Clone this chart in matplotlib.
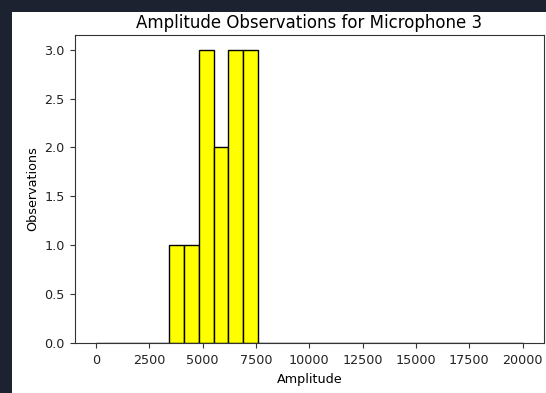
import numpy as np
import matplotlib
matplotlib.use("Agg")
import matplotlib.pyplot as plt
from matplotlib.patches import Rectangle

# histogram: 29 bins over 0..20000, counts per bin
n_bins = 29
amp_range = (0, 20000)
counts = [0, 0, 0, 0, 0, 1, 1, 3, 2, 3, 3, 0, 0, 0, 0, 0, 0, 0, 0, 0,
          0, 0, 0, 0, 0, 0, 0, 0, 0]

edges = np.linspace(amp_range[0], amp_range[1], n_bins + 1)
centers = (edges[:-1] + edges[1:]) / 2

fig = plt.figure(figsize=(5.46, 3.93), dpi=100)
fig.patch.set_facecolor("#1c2230")
bg = Rectangle((12 / 546, 0), 1, (393 - 12) / 393,
               transform=fig.transFigure, facecolor="white",
               edgecolor="none", zorder=-10)
fig.add_artist(bg)

ax = fig.add_axes([74.5 / 546, 50 / 393, (544 - 74.5) / 546, (343 - 35) / 393])
ax.set_zorder(1)
ax.hist(centers, bins=edges, weights=counts, color="yellow", edgecolor="black",
        linewidth=1.0)

ax.set_xticks([0, 2500, 5000, 7500, 10000, 12500, 15000, 17500, 20000])
ax.set_title("Amplitude Observations for Microphone 3", fontsize=12, pad=5)
ax.set_xlabel("Amplitude", fontsize=9.2, labelpad=4)
ax.set_ylabel("Observations", fontsize=9.2, labelpad=4)
ax.tick_params(axis="both", labelsize=9.2, color="#333333", labelcolor="#222222")
ax.tick_params(axis="x", pad=4.5)
for s in ax.spines.values():
    s.set_color("#333333")

plt.savefig("out.png", dpi=100, facecolor=fig.get_facecolor())
